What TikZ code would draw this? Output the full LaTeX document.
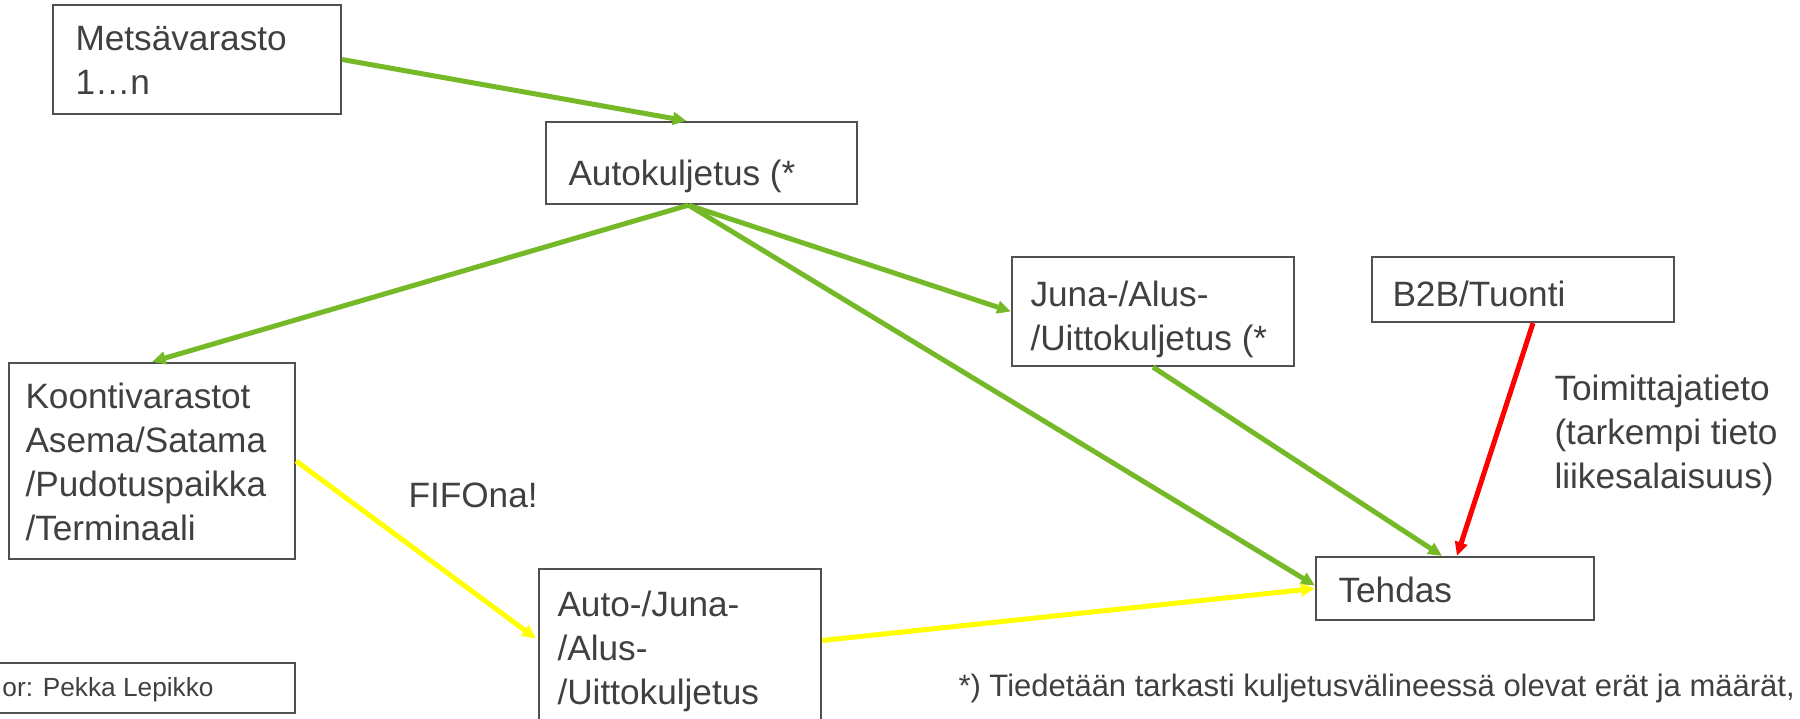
\documentclass[tikz,border=0pt]{standalone}
\usepackage{fontspec}
\setmainfont{Liberation Sans}
\usetikzlibrary{arrows.meta,calc,fit}
\definecolor{txtc}{HTML}{404040}
\definecolor{boxc}{HTML}{505050}
\definecolor{grn}{RGB}{118,185,40}
\definecolor{ylw}{RGB}{255,255,0}
\definecolor{rd}{RGB}{255,0,0}
\begin{document}
\begin{tikzpicture}[x=0.4pt,y=-0.4pt,
  box/.style={draw=boxc, line width=0.9pt, inner sep=0pt},
  txt/.style={anchor=north west, inner sep=0pt, align=left, text=txtc,
    font=\fontsize{14.08pt}{17.6pt}\selectfont},
  foot/.style={anchor=north west, inner sep=0pt, align=left, text=txtc,
    font=\fontsize{12.4pt}{15.5pt}\selectfont},
  auth/.style={anchor=north west, inner sep=0pt, align=left, text=txtc,
    font=\fontsize{10.5pt}{12.5pt}\selectfont},
  conn/.style={line width=2pt, -{Triangle[length=5.5pt,width=5pt]}, shorten >=0pt},
  garrow/.style={conn, draw=grn, fill=grn},
  yarrow/.style={conn, draw=ylw, fill=ylw},
  rarrow/.style={conn, draw=rd, fill=rd}]
\useasboundingbox (0,0) rectangle (1800,719);

% boxes
\node[box, fit={(53,5) (341,114)}] (mets) {};
\node[box, fit={(546,122) (857,204)}] (auto1) {};
\node[box, fit={(1012,257) (1294,366)}] (juna) {};
\node[box, fit={(1372,257) (1674,322)}] (b2b) {};
\node[box, fit={(9,363) (295,559)}] (koonti) {};
\node[box, fit={(539,569) (821,722)}] (auto2) {};
\node[box, fit={(1316,557) (1594,620)}] (tehdas) {};
\node[box, fit={(-10,663) (295,713)}] (authbox) {};

% texts
\node[txt] (metsT) at (75,19.2) {\strut Metsävarasto\\1…n};
\node[txt] (auto1T) at (568,154.2) {\strut Autokuljetus (*};
\node[txt] (junaT) at (1030,275.2) {\strut Juna-/Alus-\\/Uittokuljetus (*};
\node[txt] (b2bT) at (1392,275.2) {\strut B2B/Tuonti};
\node[txt] (koontiT) at (25,377.2) {\strut Koontivarastot\\Asema/Satama\\/Pudotuspaikka\\/Terminaali};
\node[txt] (auto2T) at (557,585.2) {\strut Auto-/Juna-\\/Alus-\\/Uittokuljetus};
\node[txt] (tehdasT) at (1338,571.2) {\strut Tehdas};
\node[txt] (toimT) at (1554,369.2) {\strut Toimittajatieto\\(tarkempi tieto\\liikesalaisuus)};
\node[txt] (fifoT) at (408,476.2) {\strut FIFOna!};
\node[foot] (footT) at (958,668.9) {\strut *) Tiedetään tarkasti kuljetusvälineessä olevat erät ja määrät,};
\node[auth] (authT) at (2,674.5) {\strut or: Pekka Lepikko};

% connectors
\coordinate (a1b) at ($(auto1.south)+(-13,0)$);
\draw[garrow] (mets.east) -- ($(auto1.north)+(-15,0)$);
\draw[garrow] (a1b) -- (koonti.north);
\draw[garrow] (a1b) -- (juna.west);
\draw[garrow] (a1b) -- ($(tehdas.west)+(0,-3)$);
\draw[garrow] (juna.south) -- ($(tehdas.north)+(-13,0)$);
\draw[rarrow] ($(b2b.south)+(10,0)$) -- ($(tehdas.north)+(2,0)$);
\draw[yarrow] (koonti.east) -- ($(auto2.west)+(-2,-7)$);
\draw[yarrow] ($(auto2.east)+(0,-5)$) -- (tehdas.west);
\end{tikzpicture}
\end{document}
